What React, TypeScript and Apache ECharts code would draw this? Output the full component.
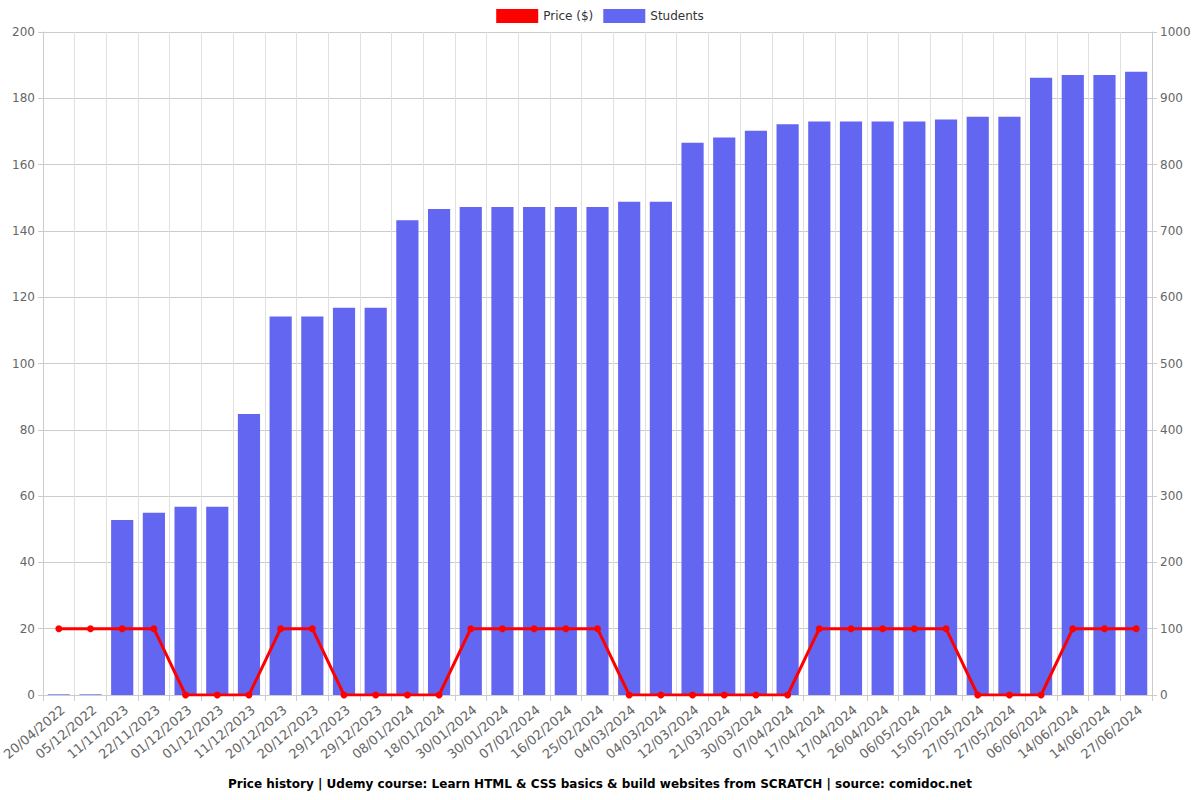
import React, { useEffect, useRef } from "react";
import * as echarts from "echarts";

const categories = [
  "20/04/2022", "05/12/2022", "11/11/2023", "22/11/2023", "01/12/2023", "01/12/2023",
  "11/12/2023", "20/12/2023", "20/12/2023", "29/12/2023", "29/12/2023", "08/01/2024",
  "18/01/2024", "30/01/2024", "30/01/2024", "07/02/2024", "16/02/2024", "25/02/2024",
  "04/03/2024", "04/03/2024", "12/03/2024", "21/03/2024", "30/03/2024", "07/04/2024",
  "17/04/2024", "17/04/2024", "26/04/2024", "06/05/2024", "15/05/2024", "27/05/2024",
  "27/05/2024", "06/06/2024", "14/06/2024", "14/06/2024", "27/06/2024",
];

const price = [
  20, 20, 20, 20, 0, 0, 0, 20, 20, 0, 0, 0, 0, 20, 20, 20, 20, 20, 0, 0, 0, 0, 0, 0,
  20, 20, 20, 20, 20, 0, 0, 0, 20, 20, 20,
];

const students = [
  1, 1, 264, 275, 284, 284, 424, 571, 571, 584, 584, 716, 733, 736, 736, 736, 736, 736,
  744, 744, 833, 841, 851, 861, 865, 865, 865, 865, 868, 872, 872, 931, 935, 935, 940,
];

const leftTicks = { min: 0, max: 200, interval: 20 };
const rightTicks = { min: 0, max: 1000, interval: 100 };

const titleText =
  "Price history | Udemy course: Learn HTML & CSS basics & build websites from SCRATCH | source: comidoc.net";

export default function App() {
  const ref = useRef<HTMLDivElement>(null);
  useEffect(() => {
    document.body.style.margin = "0";
    const chart = echarts.init(ref.current!, null, { renderer: "svg" });
    const font = "DejaVu Sans";
    chart.setOption({
      animation: false,
      textStyle: { fontFamily: font },
      title: {
        text: titleText,
        left: "center",
        top: 773,
        textStyle: { fontFamily: font, fontSize: 12, fontWeight: "bold", color: "#000" },
      },
      legend: {
        top: 4,
        left: "center",
        itemWidth: 42,
        itemHeight: 14,
        itemGap: 10,
        textStyle: { fontFamily: font, fontSize: 12, color: "#333" },
        data: [
          { name: "Price ($)", icon: "rect" },
          { name: "Students", icon: "rect" },
        ],
      },
      grid: {
        left: 43,
        right: 48,
        top: 32,
        bottom: 105,
        containLabel: false,
        outerBoundsMode: "none",
      },
      xAxis: {
        type: "category",
        data: categories,
        boundaryGap: true,
        axisLine: { show: true, lineStyle: { color: "#ccc" } },
        axisTick: { show: true, alignWithLabel: false, lineStyle: { color: "#ccc" }, length: 6 },
        splitLine: { show: true, lineStyle: { color: "#e0e0e0" } },
        axisLabel: {
          rotate: 40,
          interval: 0,
          fontFamily: font,
          fontSize: 13,
          color: "#666",
          margin: 8,
          verticalAlign: "top",
        },
      },
      yAxis: [
        {
          type: "value",
          ...leftTicks,
          axisLine: { show: true, lineStyle: { color: "#ccc" } },
          axisTick: { show: true, lineStyle: { color: "#ccc" } },
          splitLine: { show: true, lineStyle: { color: "#ccc" } },
          axisLabel: { fontFamily: font, fontSize: 12, color: "#666" },
        },
        {
          type: "value",
          ...rightTicks,
          axisLine: { show: true, lineStyle: { color: "#ccc" } },
          axisTick: { show: true, lineStyle: { color: "#ccc" } },
          splitLine: { show: false },
          axisLabel: {
            fontFamily: font,
            fontSize: 12,
            color: "#666",
            formatter: (v: number) => String(v),
          },
        },
      ],
      series: [
        {
          name: "Price ($)",
          type: "line",
          yAxisIndex: 0,
          data: price,
          z: 3,
          symbol: "circle",
          symbolSize: 7,
          itemStyle: { color: "#ff0000" },
          lineStyle: { color: "#ff0000", width: 3 },
        },
        {
          name: "Students",
          type: "bar",
          yAxisIndex: 1,
          data: students,
          z: 2,
          barCategoryGap: "30%",
          itemStyle: { color: "#6366f1" },
        },
      ],
    });
    return () => chart.dispose();
  }, []);
  return <div ref={ref} style={{ width: 1200, height: 800 }} />;
}
